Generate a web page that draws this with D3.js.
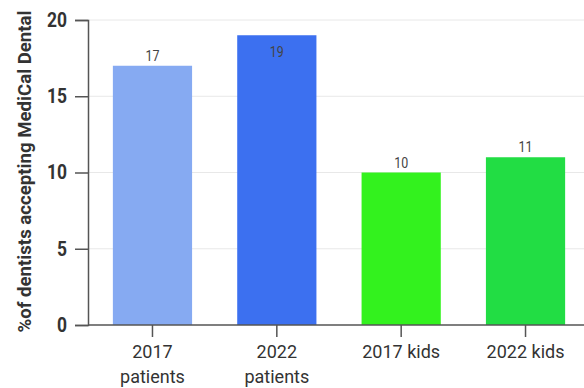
<!DOCTYPE html>
<html><head><meta charset="utf-8">
<script src="https://cdn.jsdelivr.net/npm/d3@7"></script>
<style>
body{margin:0;background:#fff;}
svg{display:block;}
text{font-family:"Roboto",sans-serif;}
</style></head>
<body><svg id="c" width="584" height="388"></svg>
<script>
const categories = ["2017 patients","2022 patients","2017 kids","2022 kids"];
const values = [17, 19, 10, 11];
const colors = ["#86aaf2","#3c70f0","#33f21e","#22dd44"];
const yTicks = [0,5,10,15,20];
const yLabel = "%of dentists accepting MediCal Dental";

const svg = d3.select("#c");
const W = 584, H = 388;
const m = {l:88, t:20, b:63};
const x = d3.scaleBand().domain(categories).range([m.l, 590]).paddingInner(0.363).paddingOuter(0.2);
const y = d3.scaleLinear().domain([0,20]).range([H - m.b, m.t]);

// grid
svg.append("g").selectAll("line").data(yTicks.filter(d=>d>0)).join("line")
  .attr("x1", m.l).attr("x2", W).attr("y1", d=>y(d)).attr("y2", d=>y(d))
  .attr("stroke", "#e8e8e8").attr("stroke-width", 1);

// bars
svg.append("g").selectAll("rect").data(values).join("rect")
  .attr("x", (d,i)=>x(categories[i])).attr("width", x.bandwidth())
  .attr("y", d=>y(d)).attr("height", d=>y(0)-y(d))
  .attr("fill", (d,i)=>colors[i]);

// value labels
svg.append("g").selectAll("text").data(values).join("text")
  .attr("x", (d,i)=>x(categories[i]) + x.bandwidth()/2)
  .attr("y", d=>Math.max(y(d) - 5, 57))
  .attr("text-anchor","middle").attr("font-size", 14).attr("fill","#444")
  .attr("textLength", 14).attr("lengthAdjust","spacingAndGlyphs")
  .text(d=>d);

// y axis
const ya = svg.append("g").attr("transform", `translate(${m.l},0)`)
  .call(d3.axisLeft(y).tickValues(yTicks).tickSize(13).tickPadding(8));
ya.select(".domain").attr("stroke","#555").attr("stroke-width",1.5);
ya.selectAll(".tick line").attr("stroke","#555").attr("stroke-width",1.5);
ya.selectAll(".tick text").attr("font-size",20).attr("font-weight","bold").attr("fill","#333")
  .style("font-family","Roboto,sans-serif")
  .attr("textLength", d=>String(d).length*10).attr("lengthAdjust","spacingAndGlyphs");

// x axis
const xa = svg.append("g").attr("transform", `translate(0,${y(0)})`)
  .call(d3.axisBottom(x).tickSize(12).tickSizeOuter(0).tickPadding(8));
xa.select(".domain").attr("stroke","#555").attr("stroke-width",1.5).attr("d", `M${m.l},0H${W}`);
xa.selectAll(".tick line").attr("stroke","#555").attr("stroke-width",1.5);
xa.selectAll(".tick text").attr("font-size",18).attr("fill","#333")
  .style("font-family","Roboto,sans-serif")
  .each(function(d){
    const t = d3.select(this); t.text(null);
    const words = d.endsWith("patients") ? d.split(" ") : [d];
    words.forEach((w,i)=>t.append("tspan").attr("x",0).attr("dy", i===0? "0.71em":"1.4em").text(w));
  });

// y label
svg.append("text")
  .attr("transform", `translate(31,${(10+333)/2}) rotate(-90)`)
  .attr("text-anchor","middle").attr("font-size",19).attr("font-weight","bold").attr("fill","#333")
  .attr("textLength", 322).attr("lengthAdjust","spacingAndGlyphs")
  .text(yLabel);
</script></body></html>
